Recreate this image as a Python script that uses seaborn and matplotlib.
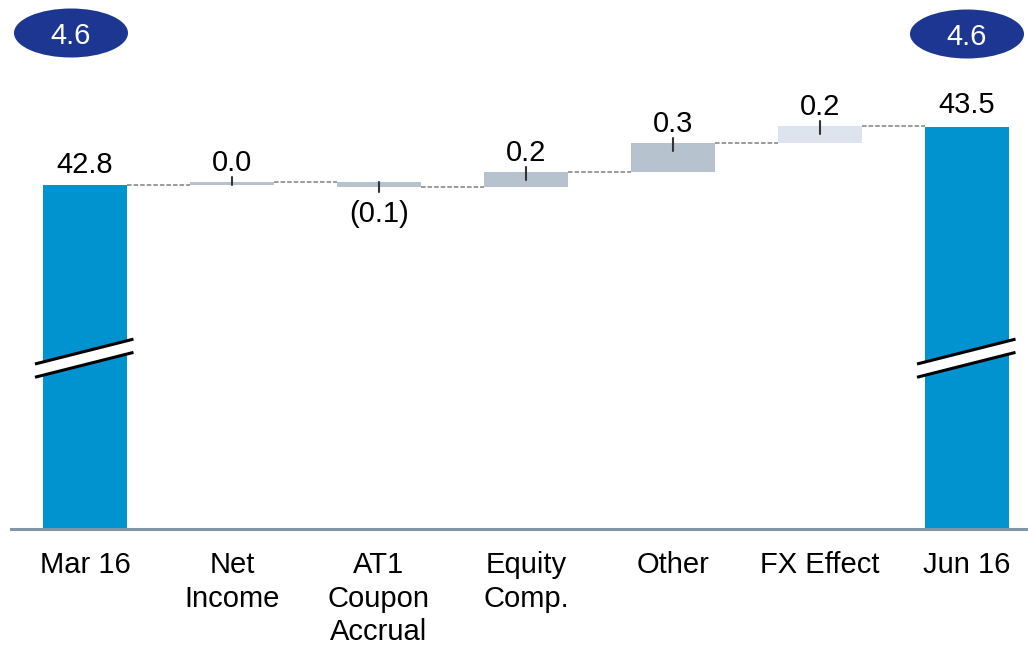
import matplotlib
matplotlib.use("Agg")
import matplotlib.pyplot as plt
import seaborn as sns
import pandas as pd
from matplotlib.patches import Ellipse, Polygon

# ---- data -------------------------------------------------------------
categories = ["Mar 16", "Net\nIncome", "AT1\nCoupon\nAccrual", "Equity\nComp.",
              "Other", "FX Effect", "Jun 16"]
start_total = 42.8
end_total = 43.5
changes = [0.04, -0.06, 0.18, 0.34, 0.21]   # Net Income .. FX Effect
badge_values = [4.6, 4.6]                   # Mar 16, Jun 16

# ---- styling ----------------------------------------------------------
total_color = "#0093d0"
change_colors = ["#b6c3ce", "#b6c3ce", "#b6c3ce", "#b6c3ce", "#dde4ee"]
badge_color = "#1c3691"
axis_color = "#8497a8"
FS = 21

sns.set_theme(style="white")
plt.rcParams["font.family"] = ["Liberation Sans", "DejaVu Sans"]

# waterfall geometry from the values
bottoms, heights, ends = [0.0], [start_total], [start_total]
running = start_total
for d in changes:
    bottoms.append(min(running, running + d))
    heights.append(abs(d))
    running += d
    ends.append(running)
bottoms.append(0.0)
heights.append(end_total)
ends.append(end_total)
colors = [total_color] + change_colors + [total_color]

df = pd.DataFrame({"cat": categories, "height": heights})

fig = plt.figure(figsize=(10.28, 6.5), dpi=100)
W, H = 1028, 650
ax = fig.add_axes([11 / W, 121 / H, 1017 / W, 529 / H])

width = 0.57
sns.barplot(data=df, x="cat", y="height", hue="cat", palette=colors,
            width=width, saturation=1, legend=False, ax=ax, zorder=2)
for patch, b in zip(ax.patches, bottoms):
    patch.set_y(b)
    patch.set_edgecolor("none")

ylo, yhi = 38.65, 45.03
ax.set_ylim(ylo, yhi)
ax.set_xlim(-0.503, 6.415)
px = (yhi - ylo) / 529.0          # data units per pixel

# dashed connectors between consecutive bars
levels = [start_total] + ends[1:6]
for i, lvl in enumerate(levels):
    ax.plot([i + width / 2, i + 1 - width / 2], [lvl, lvl], color="#808080",
            lw=1.1, dashes=(3, 1.3), zorder=1)

# value labels
ax.text(0, start_total + 12 * px, f"{start_total:.1f}", ha="center",
        va="baseline", fontsize=FS, color="black")
ax.text(6, end_total + 14 * px, f"{end_total:.1f}", ha="center",
        va="baseline", fontsize=FS, color="black")
for i, d in enumerate(changes, start=1):
    end = ends[i]
    if d >= 0:
        ax.plot([i, i], [end + 5 * px, end - min(8 * px, abs(d))],
                color="#333333", lw=1.5, zorder=3)
        ax.text(i, end + 11 * px, f"{d:.1f}", ha="center", va="baseline",
                fontsize=FS, color="black")
    else:
        ax.plot([i, i], [end - 5 * px, end + min(8 * px, abs(d))],
                color="#333333", lw=1.5, zorder=3)
        ax.text(i, end - 13 * px, f"({abs(d):.1f})", ha="center", va="top",
                fontsize=FS, color="black")

# axis break marks on the two total bars
def draw_break(xc, y_left=40.64, rise=0.30, gap=0.16):
    x0, x1 = xc - 0.34, xc + 0.33
    poly = Polygon([(x0, y_left), (x1, y_left + rise),
                    (x1, y_left + rise - gap), (x0, y_left - gap)],
                   closed=True, facecolor="white", edgecolor="none", zorder=4)
    ax.add_patch(poly)
    for off in (0, -gap):
        ax.plot([x0, x1], [y_left + off, y_left + rise + off], color="black",
                lw=2.2, zorder=5, solid_capstyle="butt")

draw_break(0)
draw_break(6)

# axes styling
for s in ("left", "right", "top"):
    ax.spines[s].set_visible(False)
ax.spines["bottom"].set_color(axis_color)
ax.spines["bottom"].set_linewidth(2.2)
ax.set_yticks([])
ax.set_xlabel("")
ax.set_ylabel("")
ax.tick_params(axis="x", length=0, pad=16, labelsize=FS, labelcolor="black")
for lab in ax.get_xticklabels():
    lab.set_linespacing(1.25)

# badges above the total bars
for (cx, cy), v in zip([(71, 33), (967, 34)], badge_values):
    e = Ellipse((cx / W, 1 - cy / H), 114 / W, 49 / H, transform=fig.transFigure,
                facecolor=badge_color, edgecolor="none")
    fig.patches.append(e)
    fig.text(cx / W, 1 - cy / H, f"{v:.1f}", ha="center", va="center_baseline",
             fontsize=FS, color="white")

fig.savefig("out.png", dpi=100, facecolor="white")
